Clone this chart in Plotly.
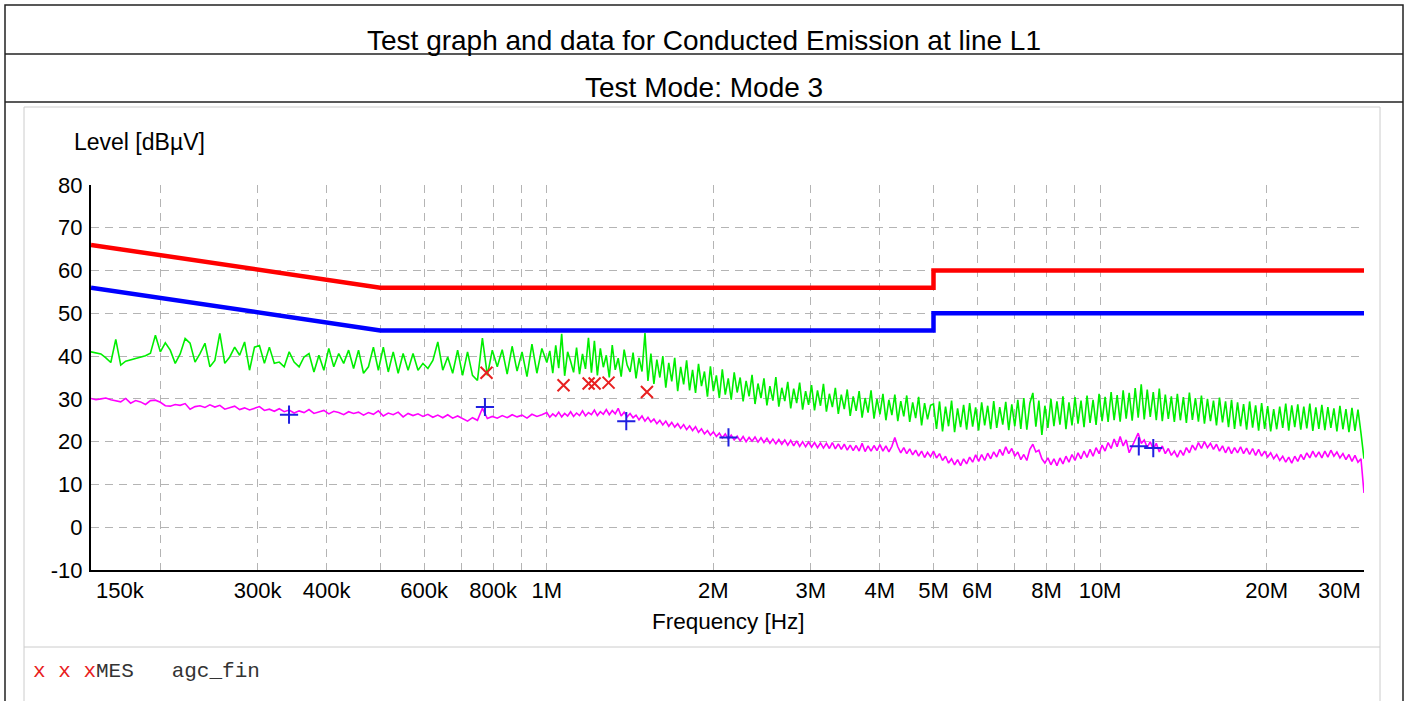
import numpy as np
import plotly.graph_objects as go

W, H = 1408, 701

title_main = "Test graph and data for Conducted Emission at line L1"
title_mode = "Test Mode: Mode 3"
y_title = "Level [dBµV]"
x_title = "Frequency [Hz]"
legend_marks = "x x x"
legend_text = "MES   agc_fin"

# x axis: grid positions and their labels ("" = grid line only)
x_tick_vals = [150e3, 200e3, 300e3, 400e3, 500e3, 600e3, 700e3, 800e3, 900e3,
               1e6, 2e6, 3e6, 4e6, 5e6, 6e6, 7e6, 8e6, 9e6, 10e6, 20e6, 30e6]
x_tick_text = ["150k", "", "300k", "400k", "", "600k", "", "800k", "",
               "1M", "2M", "3M", "4M", "5M", "6M", "", "8M", "", "10M", "20M", "30M"]
y_tick_vals = [-10, 0, 10, 20, 30, 40, 50, 60, 70, 80]
y_tick_text = ["-10", "0", "10", "20", "30", "40", "50", "60", "70", "80"]

# limit lines
limit_freq = [150e3, 500e3, 5e6, 5e6, 30e6]
qp_limit = [66, 56, 56, 60, 60]
av_limit = [56, 46, 46, 50, 50]

# sweep segments (band edges in Hz)
seg_edges = [150e3, 1e6, 5e6, 30e6]

# peak trace (green), per segment
green_a = [41.0, 40.8, 40.5, 39.6, 38.5, 43.9, 37.9, 38.8, 39.1, 39.4, 39.7, 40.1, 40.7, 44.9, 41.0,
           43.1, 41.4, 38.3, 40.5, 44.1, 43.0, 38.6, 40.6, 43.0, 37.5, 39.0, 45.3, 38.3, 39.8, 42.1,
           40.2, 43.3, 36.7, 42.1, 42.5, 38.3, 42.1, 38.3, 38.6, 37.5, 41.0, 38.6, 37.5, 39.8, 40.6,
           36.3, 40.2, 36.7, 41.8, 37.5, 40.6, 38.3, 41.4, 37.1, 41.4, 36.0, 37.5, 42.1, 36.7, 42.1,
           36.3, 41.0, 36.0, 40.6, 36.7, 40.6, 36.7, 38.3, 37.1, 39.0, 43.3, 36.7, 39.8, 36.0, 41.4,
           35.5, 41.0, 35.5, 34.3, 44.2, 35.5, 41.4, 37.5, 41.5, 35.8, 42.3, 36.5, 41.0, 35.2, 42.8,
           36.0, 41.8]
green_b = [38.5, 41.2, 36.0, 42.5, 37.2, 45.2, 35.4, 41.0, 38.8, 36.2,
           42.0, 35.8, 40.5, 37.0, 44.3, 36.1, 43.6, 35.5, 41.8, 37.4,
           40.2, 35.0, 42.6, 36.8, 39.5, 35.2, 41.5, 37.9, 36.3, 40.8,
           34.8, 39.6, 36.4, 45.4, 34.2, 40.6, 33.5, 39.2, 35.0, 40.0,
           32.6, 38.4, 34.1, 39.6, 31.8, 37.5, 33.4, 39.0, 32.0, 36.8,
           31.4, 38.2, 33.0, 36.4, 30.5, 37.6, 31.8, 35.5, 30.2, 36.9,
           31.0, 34.8, 29.8, 36.2, 31.5, 35.0, 29.4, 34.2, 30.6, 35.6,
           28.8, 33.6, 30.2, 34.8, 28.5, 33.0, 29.6, 35.1, 28.2, 32.6,
           29.5, 34.0, 27.8, 32.4, 29.0, 33.8, 27.5, 31.8, 28.6, 33.2,
           27.3, 32.0, 28.4, 33.5, 27.0, 31.2, 28.1, 32.6, 26.5, 31.0,
           27.6, 32.2, 26.0, 30.6, 27.2, 31.8, 25.6, 30.2, 26.8, 32.0,
           25.4, 30.0, 26.4, 31.2, 25.0, 29.8, 26.2, 31.0, 24.8, 29.5,
           25.9, 30.8, 24.6, 29.2, 25.5, 30.5, 23.8, 29.0, 25.2, 28.5]
green_c = [28.8, 23.0, 29.4, 22.4, 28.2, 23.6, 29.6, 22.2, 27.8, 23.4,
           28.6, 22.8, 29.0, 23.5, 28.0, 22.6, 29.2, 23.8, 28.4, 22.9,
           29.5, 23.2, 28.1, 24.0, 29.3, 22.7, 28.7, 23.6, 29.8, 23.0,
           30.2, 22.8, 29.0, 31.4, 23.5, 29.6, 21.6, 28.4, 23.2, 30.0,
           23.6, 29.4, 24.0, 30.6, 22.9, 29.2, 23.8, 30.4, 24.2, 29.6,
           23.4, 30.8, 24.4, 29.8, 23.9, 31.2, 24.8, 30.5, 24.6, 31.6,
           25.0, 30.9, 24.7, 32.0, 25.4, 31.4, 24.9, 32.5, 25.6, 33.4,
           25.2, 32.2, 25.8, 31.6, 25.0, 32.4, 24.8, 31.0, 25.3, 30.6,
           24.6, 31.2, 25.0, 30.4, 24.4, 31.5, 25.1, 30.2, 24.7, 30.8,
           24.2, 30.0, 24.8, 29.6, 23.8, 30.3, 24.5, 29.4, 23.4, 29.8,
           23.0, 29.2, 23.6, 28.8, 22.8, 29.4, 23.3, 28.5, 22.6, 29.0,
           23.0, 28.3, 22.4, 27.6, 22.9, 28.2, 23.2, 28.9, 22.6, 28.5,
           23.4, 28.7, 22.8, 28.2, 23.1, 28.9, 22.5, 28.0, 23.0, 28.6,
           22.7, 28.1, 23.2, 27.8, 22.4, 28.4, 22.9, 27.6, 22.2, 27.9,
           22.5, 27.5, 22.0, 16.0]

# average trace (magenta), per segment
mag_a = [30.1, 29.8, 30.0, 30.2, 29.8, 29.5, 29.3, 30.1, 29.0, 29.6, 29.3, 28.7, 29.6, 29.7, 29.2,
         28.4, 28.3, 28.7, 28.5, 28.9, 27.6, 28.2, 28.4, 28.0, 28.6, 28.1, 28.5, 27.6, 27.9, 28.3,
         27.5, 27.9, 27.4, 27.8, 28.2, 27.3, 27.6, 27.1, 27.7, 27.0, 27.4, 26.7, 27.2, 26.8, 27.5,
         26.6, 27.0, 27.3, 26.5, 27.1, 26.8, 26.3, 27.0, 26.6, 26.9, 26.2, 26.8, 26.4, 27.2, 26.0,
         26.7, 26.3, 26.9, 25.8, 26.6, 26.1, 26.5, 25.9, 26.4, 25.7, 26.2, 25.6, 26.3, 25.5, 26.0,
         25.3, 24.8, 25.6, 25.0, 27.8, 25.4, 25.9, 25.5, 26.1, 25.6, 26.3, 25.8, 26.2, 25.5, 26.4,
         25.9, 26.3]
mag_b = [26.8, 25.7, 26.5, 25.9, 26.9, 25.8, 26.6, 26.0, 27.0, 25.9,
         26.7, 26.1, 27.2, 26.0, 26.8, 26.3, 27.4, 26.1, 27.0, 26.4,
         27.5, 26.3, 27.3, 26.5, 27.8, 26.0, 26.9, 25.8, 26.6, 25.6,
         26.2, 25.1, 26.0, 24.8, 25.7, 24.6, 25.3, 24.2, 25.0, 23.9,
         24.8, 23.6, 24.5, 23.4, 24.2, 23.1, 24.0, 22.8, 23.7, 22.6,
         23.5, 22.2, 23.0, 21.8, 22.6, 21.5, 22.3, 21.2, 22.0, 20.9,
         21.8, 20.6, 21.5, 20.4, 21.3, 20.2, 21.2, 20.0, 21.0, 20.1,
         21.1, 19.9, 20.9, 19.8, 20.8, 19.6, 20.6, 19.5, 20.5, 19.4,
         20.4, 19.2, 20.3, 19.0, 20.2, 18.9, 20.0, 18.8, 19.9, 18.7,
         19.8, 18.6, 19.7, 18.5, 19.6, 18.4, 19.8, 18.3, 19.5, 18.2,
         19.4, 18.0, 19.2, 17.9, 19.1, 17.8, 19.6, 17.7, 19.0, 17.8,
         19.1, 17.9, 19.3, 17.8, 19.0, 17.6, 18.9, 21.0, 18.8, 17.4,
         18.6, 17.2, 18.3, 16.9, 18.0, 16.6, 17.8, 16.3, 17.5, 16.5]
mag_c = [17.8, 16.2, 17.2, 15.6, 16.6, 15.0, 16.0, 14.6, 15.8, 14.4,
         16.0, 14.8, 16.4, 15.2, 16.9, 15.4, 17.0, 15.6, 17.3, 16.0,
         17.6, 16.4, 18.2, 16.8, 18.8, 17.2, 18.4, 16.6, 17.6, 15.8,
         17.0, 15.6, 18.2, 19.4, 17.6, 18.0, 16.0, 15.0, 16.2, 14.6,
         16.0, 14.4, 16.2, 14.8, 16.6, 15.2, 17.0, 15.6, 17.4, 16.0,
         17.8, 16.3, 18.2, 16.6, 18.6, 17.2, 19.2, 17.8, 19.8, 18.4,
         20.6, 18.8, 21.2, 19.0, 20.4, 17.4, 19.0, 20.8, 22.0, 19.6,
         20.4, 18.6, 20.0, 18.2, 19.6, 17.6, 19.0, 17.2, 18.4, 16.8,
         17.8, 16.4, 18.0, 16.8, 18.6, 17.4, 19.2, 18.0, 19.8, 18.4,
         20.0, 18.6, 19.6, 18.2, 19.4, 17.8, 19.0, 17.4, 18.8, 17.2,
         18.6, 17.4, 18.8, 17.2, 18.5, 17.0, 18.4, 16.8, 18.2, 16.6,
         17.8, 16.4, 17.4, 16.0, 17.0, 15.6, 16.6, 15.2, 16.4, 15.0,
         16.6, 15.4, 17.0, 15.8, 17.4, 16.2, 17.8, 16.4, 17.6, 16.2,
         17.8, 16.4, 18.0, 16.6, 17.6, 16.2, 17.2, 15.8, 17.0, 15.4,
         16.8, 15.2, 16.0, 8.0]

# final measurements
mes_freq = [0.778e6, 1.072e6, 1.190e6, 1.220e6, 1.293e6, 1.517e6]
mes_qp = [36.1, 33.2, 33.6, 33.6, 33.8, 31.6]
mes_av_freq = [0.342e6, 0.773e6, 1.392e6, 2.13e6, 11.75e6, 12.48e6]
mes_av = [26.3, 28.1, 24.8, 21.0, 18.9, 18.5]


def sweep(segments):
    freqs, levels = [], []
    n_seg = len(segments)
    for i, vals in enumerate(segments):
        lo, hi = seg_edges[i], seg_edges[i + 1]
        n = len(vals)
        if i == n_seg - 1:
            f = np.geomspace(lo, hi, n)
        else:
            f = np.geomspace(lo, hi, n + 1)[:n]
        freqs.extend(f.tolist())
        levels.extend(vals)
    return freqs, levels


gf, gl = sweep([green_a, green_b, green_c])
mf, ml = sweep([mag_a, mag_b, mag_c])


def px(x):
    return x / W


def py(y):
    return 1 - y / H


FONT = "Liberation Sans, Arial, sans-serif"
NB = "\u00a0"

fig = go.Figure()
fig.add_trace(go.Scatter(x=gf, y=gl, mode="lines", line=dict(color="#00ee00", width=1.6),
                         hoverinfo="skip"))
fig.add_trace(go.Scatter(x=mf, y=ml, mode="lines", line=dict(color="#ff00ff", width=1.6),
                         hoverinfo="skip"))
fig.add_trace(go.Scatter(x=limit_freq, y=qp_limit, mode="lines", line=dict(color="#ff0000", width=4.5)))
fig.add_trace(go.Scatter(x=limit_freq, y=av_limit, mode="lines", line=dict(color="#0000ff", width=4.5)))
fig.add_trace(go.Scatter(x=mes_freq, y=mes_qp, mode="markers",
                         marker=dict(symbol="x-thin-open", size=12, color="#e82020",
                                     line=dict(color="#e82020", width=2))))
fig.add_trace(go.Scatter(x=mes_av_freq, y=mes_av, mode="markers",
                         marker=dict(symbol="cross-thin-open", size=13, color="#2020e0",
                                     line=dict(color="#2020e0", width=2))))

# end labels are placed inside the axis span (as in the reference), the rest are axis tick labels
x_text = list(x_tick_text)
x_text[0] = ""
x_text[-1] = ""

fig.update_xaxes(
    type="log", range=[np.log10(150e3), np.log10(30e6)],
    domain=[px(91), px(1364)], automargin=False,
    tickmode="array", tickvals=x_tick_vals, ticktext=x_text,
    ticks="", ticklen=0,
    showgrid=True, gridcolor="#b4b4b4", gridwidth=1, griddash="8px,6px",
    showline=True, linecolor="#000000", linewidth=2,
    zeroline=False, tickfont=dict(family=FONT, size=22, color="#000000"),
)
fig.update_yaxes(
    range=[-10, 80], domain=[py(570), py(185)], automargin=False,
    tickmode="array", tickvals=y_tick_vals, ticktext=y_tick_text,
    ticks="outside", ticklen=2, tickcolor="rgba(0,0,0,0)",
    showgrid=True, gridcolor="#b4b4b4", gridwidth=1, griddash="8px,6px",
    showline=True, linecolor="#000000", linewidth=2,
    zeroline=False, tickfont=dict(family=FONT, size=22, color="#000000"),
)

shapes = [
    dict(type="rect", x0=px(5), x1=px(1403), y0=py(720), y1=py(5),
         line=dict(color="#222222", width=1.5)),
    dict(type="line", x0=px(5), x1=px(1403), y0=py(54), y1=py(54),
         line=dict(color="#222222", width=1.5)),
    dict(type="line", x0=px(5), x1=px(1403), y0=py(102), y1=py(102),
         line=dict(color="#222222", width=1.5)),
    dict(type="rect", x0=px(24), x1=px(1380), y0=py(720), y1=py(107),
         line=dict(color="#cccccc", width=1)),
    dict(type="line", x0=px(24), x1=px(1380), y0=py(647), y1=py(647),
         line=dict(color="#cccccc", width=1)),
]
for s in shapes:
    s.update(xref="paper", yref="paper", layer="below")

annotations = [
    dict(text=title_main, x=px(704), y=py(40), font=dict(family=FONT, size=28, color="#000000")),
    dict(text=title_mode, x=px(704), y=py(88), font=dict(family=FONT, size=28, color="#000000")),
    dict(text=y_title, x=px(72), y=py(142), xanchor="left",
         font=dict(family=FONT, size=23, color="#000000")),
    dict(text=x_title, x=px(728), y=py(621), font=dict(family=FONT, size=22.5, color="#000000")),
    dict(text="<span style='color:#e82020'>" + legend_marks.replace(" ", NB) + "</span>"
              + legend_text.replace(" ", NB),
         x=px(31), y=py(671), xanchor="left",
         font=dict(family="Liberation Mono, Courier New, monospace", size=21, color="#333333")),
]
for a in annotations:
    a.update(xref="paper", yref="paper", showarrow=False, yanchor=a.get("yanchor", "middle"),
             xanchor=a.get("xanchor", "center"))

# first and last frequency labels, kept inside the plot span
annotations.append(dict(text=x_tick_text[0], x=np.log10(x_tick_vals[0]), xref="x",
                        y=py(590), yref="paper", xanchor="left", yanchor="middle", xshift=3,
                        showarrow=False, font=dict(family=FONT, size=22, color="#000000")))
annotations.append(dict(text=x_tick_text[-1], x=np.log10(x_tick_vals[-1]), xref="x",
                        y=py(590), yref="paper", xanchor="right", yanchor="middle", xshift=-1,
                        showarrow=False, font=dict(family=FONT, size=22, color="#000000")))

fig.update_layout(
    width=W, height=H, margin=dict(l=0, r=0, t=0, b=0, autoexpand=False),
    paper_bgcolor="#ffffff", plot_bgcolor="#ffffff",
    showlegend=False, shapes=shapes, annotations=annotations,
)

fig.write_html("out.html", config={"displayModeBar": False},
               post_script="document.body.style.margin='0';document.body.style.overflow='hidden';")
